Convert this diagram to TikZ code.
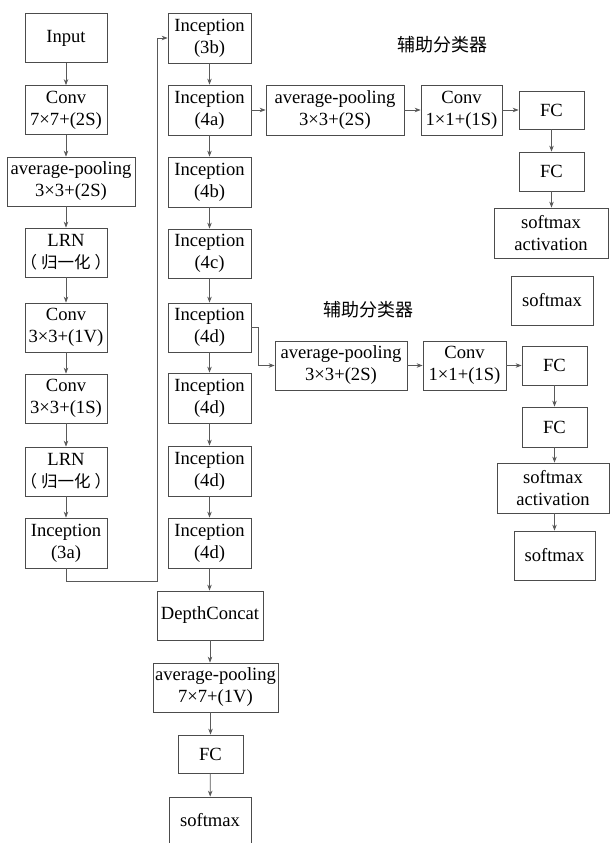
\documentclass[tikz,border=0pt]{standalone}
\usepackage{fontspec}
\setmainfont{Liberation Serif}
\newfontfamily\tnr{Liberation Serif}
\newfontfamily\cjk{Noto Sans CJK SC}
\usetikzlibrary{arrows.meta}
\newcommand{\bxfont}{\tnr\fontsize{18.6}{22}\selectfont}
\newcommand{\cjkline}{\makebox[78pt]{\cjk\fontsize{16.5}{22}\selectfont （\kern4pt 归一化\kern4pt）}}
\tikzset{
  bx/.style={draw=black!70, line width=0.75pt, inner sep=0pt, align=center, font=\bxfont, text=black},
  arr/.style={draw=black!65, line width=0.75pt, -{Stealth[length=6pt,width=4.5pt]}},
  ttl/.style={font=\cjk\fontsize{18}{22}\selectfont, inner sep=0pt}
}
\begin{document}
\begin{tikzpicture}[x=1pt,y=-1pt]
\useasboundingbox[fill=white] (0,0) rectangle (611,843);
% left column
\node[bx, minimum width=82pt, minimum height=49pt] (in) at (66,38) {Input};
\node[bx, minimum width=82pt, minimum height=49pt] (c1) at (66,110) {Conv\\7×7+(2S)};
\node[bx, minimum width=128pt, minimum height=49pt] (ap1) at (71,181.5) {average-pooling\\3×3+(2S)};
\node[bx, minimum width=82pt, minimum height=49pt] (lrn1) at (66,252.5) {LRN\\\cjkline};
\node[bx, minimum width=82pt, minimum height=49pt] (c2) at (66,327.5) {Conv\\3×3+(1V)};
\node[bx, minimum width=82pt, minimum height=49pt] (c3) at (66,398.5) {Conv\\3×3+(1S)};
\node[bx, minimum width=82pt, minimum height=49pt] (lrn2) at (66,471.5) {LRN\\\cjkline};
\node[bx, minimum width=82pt, minimum height=50pt] (i3a) at (66,543) {Inception\\(3a)};
% middle column
\node[bx, minimum width=83pt, minimum height=50pt] (i3b) at (209.5,38) {Inception\\(3b)};
\node[bx, minimum width=83pt, minimum height=50pt] (i4a) at (209.5,110) {Inception\\(4a)};
\node[bx, minimum width=83pt, minimum height=50pt] (i4b) at (209.5,182) {Inception\\(4b)};
\node[bx, minimum width=83pt, minimum height=49pt] (i4c) at (209.5,253.5) {Inception\\(4c)};
\node[bx, minimum width=83pt, minimum height=49pt] (i4d1) at (209.5,327.5) {Inception\\(4d)};
\node[bx, minimum width=83pt, minimum height=50pt] (i4d2) at (209.5,398) {Inception\\(4d)};
\node[bx, minimum width=83pt, minimum height=50pt] (i4d3) at (209.5,471) {Inception\\(4d)};
\node[bx, minimum width=83pt, minimum height=50pt] (i4d4) at (209.5,543) {Inception\\(4d)};
\node[bx, minimum width=106pt, minimum height=49pt] (dc) at (210,615.5) {DepthConcat};
\node[bx, minimum width=125pt, minimum height=49pt] (ap3) at (215.5,687.5) {average-pooling\\7×7+(1V)};
\node[bx, minimum width=65pt, minimum height=38pt] (fc3) at (210.5,754) {FC};
\node[bx, minimum width=82pt, minimum height=47pt] (sm3) at (210,820.5) {softmax};
% auxiliary classifier 1
\node[ttl] (t1) at (442,45) {辅助分类器};
\node[bx, minimum width=138pt, minimum height=50pt] (ap2) at (335,110) {average-pooling\\3×3+(2S)};
\node[bx, minimum width=81pt, minimum height=50pt] (cv2) at (461.5,110) {Conv\\1×1+(1S)};
\node[bx, minimum width=65pt, minimum height=38pt] (fc1) at (551.5,110) {FC};
\node[bx, minimum width=65pt, minimum height=39pt] (fc2) at (551.5,171.5) {FC};
\node[bx, minimum width=114pt, minimum height=50pt] (sa1) at (551,233) {softmax\\activation};
\node[bx, minimum width=82pt, minimum height=49pt] (sm1) at (552,300.5) {softmax};
% auxiliary classifier 2
\node[ttl] (t2) at (368,310) {辅助分类器};
\node[bx, minimum width=132pt, minimum height=49pt] (ap4) at (341,365.5) {average-pooling\\3×3+(2S)};
\node[bx, minimum width=83pt, minimum height=49pt] (cv4) at (464.5,365.5) {Conv\\1×1+(1S)};
\node[bx, minimum width=65pt, minimum height=39pt] (fc4) at (554.5,365.5) {FC};
\node[bx, minimum width=65pt, minimum height=40pt] (fc5) at (554.5,427) {FC};
\node[bx, minimum width=112pt, minimum height=50pt] (sa2) at (553,488) {softmax\\activation};
\node[bx, minimum width=81pt, minimum height=49pt] (sm2) at (554.5,555.5) {softmax};
% connectors: left column
\draw[arr] (in) -- (c1);
\draw[arr] (c1.south) -- (c1.south |- ap1.north);
\draw[arr] (ap1.south -| c1.south) -- (lrn1.north);
\draw[arr] (lrn1) -- (c2);
\draw[arr] (c2) -- (c3);
\draw[arr] (c3) -- (lrn2);
\draw[arr] (lrn2) -- (i3a);
\coordinate (jx) at (157,581);
\draw[arr] (i3a.south) |- (jx) |- (i3b.west);
% middle column
\draw[arr] (i3b) -- (i4a);
\draw[arr] (i4a) -- (i4b);
\draw[arr] (i4b) -- (i4c);
\draw[arr] (i4c) -- (i4d1);
\draw[arr] (i4d1) -- (i4d2);
\draw[arr] (i4d2) -- (i4d3);
\draw[arr] (i4d3) -- (i4d4);
\draw[arr] (i4d4.south) -- (i4d4.south |- dc.north);
\draw[arr] (dc.south) -- (dc.south |- ap3.north);
\draw[arr] (ap3.south -| fc3.north) -- (fc3.north);
\draw[arr] (fc3) -- (sm3);
% aux 1
\draw[arr] (i4a.east) -- (ap2.west);
\draw[arr] (ap2) -- (cv2);
\draw[arr] (cv2) -- (fc1);
\draw[arr] (fc1) -- (fc2);
\draw[arr] (fc2) -- (fc2.south |- sa1.north);
% aux 2
\coordinate (bend) at (258,327.5);
\draw[arr] (i4d1.east) -- (bend) |- (ap4.west);
\draw[arr] (ap4) -- (cv4);
\draw[arr] (cv4) -- (fc4);
\draw[arr] (fc4) -- (fc5);
\draw[arr] (fc5.south) -- (fc5.south |- sa2.north);
\draw[arr] (sa2.south -| sm2.north) -- (sm2.north);
\end{tikzpicture}
\end{document}
